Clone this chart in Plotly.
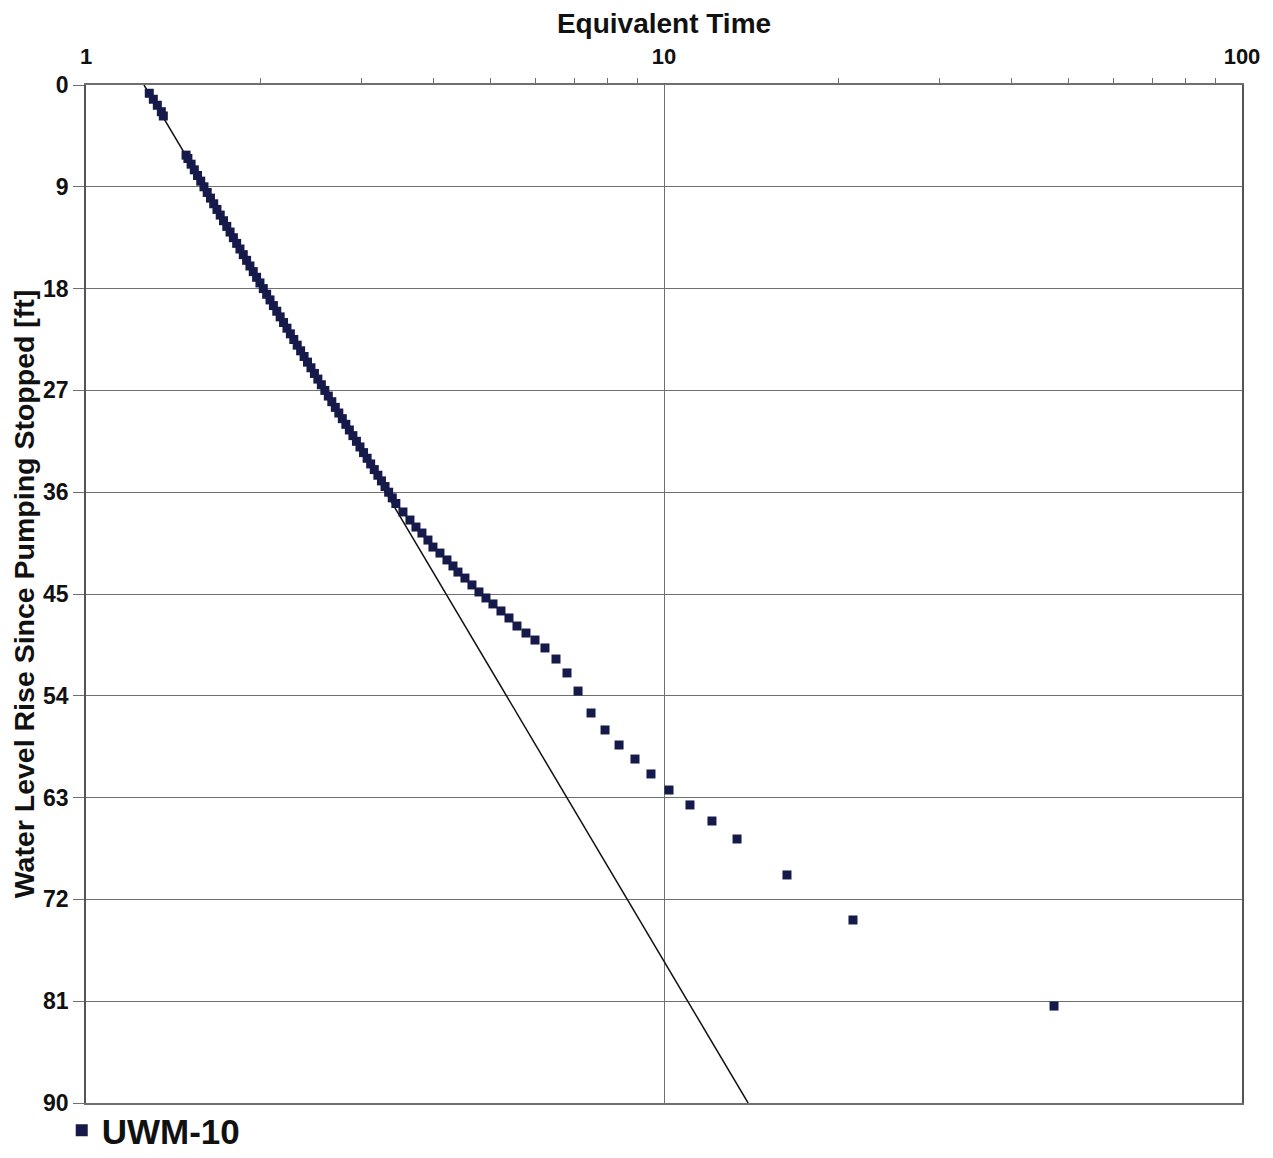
import plotly.graph_objects as go

# Observed data: UWM-10 recovery (equivalent time vs. water level rise)
eq_time = [
    1.2867, 1.3075, 1.3286, 1.3500, 1.3608,
    1.4897, 1.5007, 1.5200, 1.5395, 1.5594, 1.5795, 1.6000, 1.6207, 1.6418, 1.6632,
    1.6849, 1.7070, 1.7294, 1.7521, 1.7752, 1.7987, 1.8225, 1.8466, 1.8711, 1.8961,
    1.9213, 1.9470, 1.9731, 1.9996, 2.0265, 2.0538, 2.0815, 2.1097, 2.1383, 2.1673,
    2.1968, 2.2268, 2.2573, 2.2882, 2.3196, 2.3515, 2.3840, 2.4169, 2.4503, 2.4843,
    2.5187, 2.5538, 2.5895, 2.6256, 2.6625, 2.6999, 2.7378, 2.7763, 2.8155, 2.8553,
    2.8958, 2.9369, 2.9787, 3.0212, 3.0644, 3.1083, 3.1531, 3.1985, 3.2446, 3.2913,
    3.3390, 3.3875, 3.4364,
    3.5347, 3.6347, 3.7227, 3.8126, 3.9049, 3.9835, 4.0962, 4.2121, 4.3140, 4.4007,
    4.5252, 4.6531, 4.7847, 4.9200, 5.0592, 5.2233, 5.3926, 5.5673, 5.7707, 5.9813,
    6.2243, 6.5035, 6.7948, 7.1000, 7.4776, 7.9066, 8.3605, 8.9086, 9.4947, 10.201,
    11.090, 12.106, 13.377, 16.322, 21.231, 47.29,
]
rise_ft = [
    0.73, 1.26, 1.79, 2.36, 2.74,
    6.2, 6.5, 7.0, 7.5, 8.0, 8.5, 9.0, 9.5, 10.0, 10.5,
    11.0, 11.5, 12.0, 12.5, 13.0, 13.5, 14.0, 14.5, 15.0, 15.5,
    16.0, 16.5, 17.0, 17.5, 18.0, 18.5, 19.0, 19.5, 20.0, 20.5,
    21.0, 21.5, 22.0, 22.5, 23.0, 23.5, 24.0, 24.5, 25.0, 25.5,
    26.0, 26.5, 27.0, 27.5, 28.0, 28.5, 29.0, 29.5, 30.0, 30.5,
    31.0, 31.5, 32.0, 32.5, 33.0, 33.5, 34.0, 34.5, 35.0, 35.5,
    36.0, 36.5, 37.0,
    37.75, 38.46, 39.08, 39.61, 40.23, 40.85, 41.38, 41.99, 42.52, 43.06,
    43.59, 44.20, 44.82, 45.35, 45.88, 46.50, 47.12, 47.83, 48.45, 49.07,
    49.77, 50.75, 51.98, 53.58, 55.52, 57.02, 58.35, 59.59, 60.91, 62.33,
    63.65, 65.07, 66.66, 69.84, 73.82, 81.43,
]

# Straight-line fit (semi-log)
fit_x = [1.260, 13.98]
fit_y = [0, 90]

# Axis ticks
x_major = [1, 10, 100]
x_minor = [2, 3, 4, 5, 6, 7, 8, 9, 20, 30, 40, 50, 60, 70, 80, 90]
y_ticks = [0, 9, 18, 27, 36, 45, 54, 63, 72, 81, 90]

FONT = "Liberation Sans, Arial, sans-serif"
NAVY = "#161a4a"
GRID = "#6f6f6f"

fig = go.Figure()
fig.add_trace(go.Scatter(
    x=fit_x, y=fit_y, mode="lines",
    line=dict(color="#111111", width=1.5),
    showlegend=False, hoverinfo="skip",
))
fig.add_trace(go.Scatter(
    x=eq_time, y=rise_ft, mode="markers", name="UWM-10",
    marker=dict(symbol="square", size=9, color=NAVY, line=dict(width=0)),
))

# page body adds an 8px margin, so the figure is sized to fit the window
fig.update_layout(
    width=1265, height=1150,
    paper_bgcolor="white", plot_bgcolor="white",
    margin=dict(l=78, r=31, t=77, b=55, autoexpand=False),
    font=dict(family=FONT, color="#111111"),
    legend=dict(
        orientation="h", x=-0.021, y=0.002, xanchor="left", yanchor="top",
        font=dict(size=35, family=FONT, weight="bold"),
        itemsizing="constant", itemwidth=30,
        bgcolor="rgba(0,0,0,0)", borderwidth=0,
    ),
    showlegend=True,
)

fig.update_xaxes(
    type="log", side="top", automargin=False,
    range=[0, 2],
    tickvals=x_major, ticktext=["1", "10", "100"],
    tickfont=dict(size=22, family=FONT, weight="bold"),
    ticks="", ticklen=0, ticklabelstandoff=10,
    showgrid=True, gridcolor=GRID, gridwidth=1.3,
    showline=True, linecolor=GRID, linewidth=1.5, mirror=True,
    minor=dict(tickvals=x_minor, ticks="outside", ticklen=5, tickcolor=GRID, showgrid=False),
    title=dict(text="Equivalent Time", font=dict(size=28, family=FONT, weight="bold"), standoff=16),
    zeroline=False,
)
fig.update_yaxes(
    range=[90, 0], automargin=False,
    tickvals=y_ticks,
    tickfont=dict(size=23, family=FONT, weight="bold"),
    ticks="outside", ticklen=11, tickcolor=GRID, tickwidth=1.3,
    showgrid=True, gridcolor=GRID, gridwidth=1.3,
    showline=True, linecolor="#555555", linewidth=1.5, mirror=True,
    title=dict(text="Water Level Rise Since Pumping Stopped [ft]",
               font=dict(size=28.5, family=FONT, weight="bold"), standoff=8),
    zeroline=False,
)

fig.write_html("out.html")
